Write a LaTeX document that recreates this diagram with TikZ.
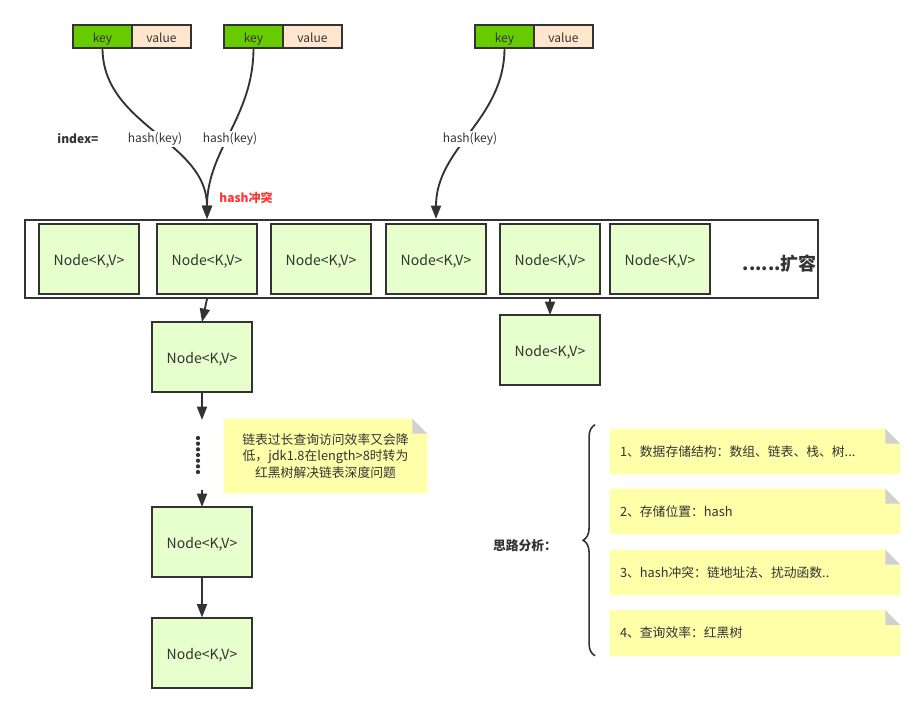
\documentclass[tikz,border=0pt]{standalone}
\usepackage{fontspec}
\setmainfont{Noto Sans CJK SC}
\usetikzlibrary{arrows.meta,positioning,decorations.pathreplacing,backgrounds}

\definecolor{linegray}{HTML}{333333}
\definecolor{keygreen}{HTML}{66CC00}
\definecolor{valpeach}{HTML}{FFE6CC}
\definecolor{nodegreen}{HTML}{E6FFCC}
\definecolor{notefill}{HTML}{FFFFAA}
\definecolor{foldgray}{HTML}{D0D0D0}
\definecolor{clashred}{HTML}{FF3333}

\tikzset{
  kv/.style={draw=linegray, line width=1.5pt, outer sep=0pt, inner sep=0pt,
    minimum width=44.25pt, minimum height=17.25pt, text height=0.95em, text depth=0.05em,
    font=\fontsize{9}{10}\selectfont, text=linegray},
  keybox/.style={kv, fill=keygreen},
  valbox/.style={kv, fill=valpeach},
  kvnode/.style={draw=linegray, line width=1.5pt, fill=nodegreen, outer sep=0pt,
    minimum width=75pt, minimum height=52.5pt, text height=1.05em, text depth=0.05em,
    font=\fontsize{10.5}{12}\selectfont, text=linegray},
  link/.style={draw=linegray, line width=1.4pt, -{Triangle[length=10pt,width=7.5pt]}},
  hashlbl/.style={fill=white, inner sep=1pt, font=\fontsize{9}{10}\selectfont, text=linegray},
  tipnote/.style={minimum width=152.25pt, minimum height=55.5pt, align=center,
    font=\fontsize{9.6}{12.5}\selectfont, text=linegray},
  ideanote/.style={text width=202.5pt, inner xsep=7.5pt, minimum height=33.75pt,
    align=left, font=\fontsize{9.6}{12}\selectfont, text=linegray},
}

\begin{document}
\begin{tikzpicture}[x=0.75pt, y=-0.75pt]
        \useasboundingbox (0,0) rectangle (924,713);

        % 键值对
        \node[keybox] (key1) at (102.5,36.5) {key};
        \node[valbox, right=0pt of key1] (val1) {value};
        \node[keybox] (key2) at (253.5,36.5) {key};
        \node[valbox, right=0pt of key2] (val2) {value};
        \node[keybox] (key3) at (504.5,36.5) {key};
        \node[valbox, right=0pt of key3] (val3) {value};

        % 数组
        \node[draw=linegray, line width=1.5pt, minimum width=594.75pt, minimum height=58.5pt] (tab) at (421.5,259) {};
        \node[kvnode] (n1) at (89,259) {Node<K,V>};
        \node[kvnode] (n2) at (207,259) {Node<K,V>};
        \node[kvnode] (n3) at (321,259) {Node<K,V>};
        \node[kvnode] (n4) at (436,259) {Node<K,V>};
        \node[kvnode] (n5) at (550,259) {Node<K,V>};
        \node[kvnode] (n6) at (660,259) {Node<K,V>};
        \node[anchor=east, inner sep=0pt, font=\fontsize{13.5}{15}\selectfont\bfseries, text=linegray] (grow) at (817,264) {......扩容};

        % hash(key) 曲线
        \draw[link] (key1.south) to[out=-90, in=90] (n2.north |- tab.north);
        \draw[link] (key2.south) to[out=-90, in=90] (n2.north |- tab.north);
        \draw[link] (key3.south) to[out=-90, in=90] (n4.north |- tab.north);
        \node[font=\fontsize{9}{10}\selectfont\bfseries, text=linegray] (idx) at (78,139) {index=};
        \node[hashlbl] (h1) at (155,139) {hash(key)};
        \node[hashlbl] (h2) at (230,139) {hash(key)};
        \node[hashlbl] (h3) at (470,139) {hash(key)};
        \node[font=\fontsize{9}{10}\selectfont\bfseries, text=clashred] (clash) at (246,198) {hash冲突};

        % 链表
        \node[kvnode] (l1) at (202,357) {Node<K,V>};
        \node[kvnode] (l2) at (202,542) {Node<K,V>};
        \node[kvnode] (l3) at (202,652.5) {Node<K,V>};
        \node[kvnode] (c1) at (550,350) {Node<K,V>};
        \coordinate (dtop) at (202,420);
        \coordinate (dbot) at (202,490);
        \draw[link] (n2.south |- tab.south) -- (l1.north);
        \draw[link] (l1.south) -- (dtop);
        \foreach \i in {0,...,6}
            \fill[linegray] (198,438+\i*5.67) circle (1.6pt);
        \draw[link] (dbot) -- (l2.north);
        \draw[link] (l2.south) -- (l3.north);
        \draw[link] (n5.south |- tab.south) -- (c1.north);

        % 注释
        \node[tipnote] (tip) at (325.5,456) {链表过长查询访问效率又会降\\低，jdk1.8在length>8时转为\\红黑树解决链表深度问题};

        % 思路分析
        \node[font=\fontsize{9.6}{11}\selectfont\bfseries, text=linegray] (idea) at (525,546) {思路分析：};
        \node[ideanote] (s1) at (755,451.5) {1、数据存储结构：数组、链表、栈、树...};
        \node[ideanote] (s2) at (755,511.5) {2、存储位置：hash};
        \node[ideanote] (s3) at (755,572.5) {3、hash冲突：链地址法、扰动函数..};
        \node[ideanote] (s4) at (755,633) {4、查询效率：红黑树};
        \draw[linegray, line width=1.2pt, decorate, decoration={brace, amplitude=9pt}]
            ([xshift=-11pt]s4.south west) -- ([xshift=-11pt,yshift=3pt]s1.north west);

        \begin{pgfonlayer}{background}
        \foreach \n in {tip,s1,s2,s3,s4} {
            \fill[notefill] (\n.south west) -- (\n.north west) -- ([xshift=-11.25pt]\n.north east)
                -- ([yshift=-11.25pt]\n.north east) -- (\n.south east) -- cycle;
            \fill[foldgray] ([xshift=-11.25pt]\n.north east) -- ([yshift=-11.25pt]\n.north east)
                -- ([xshift=-11.25pt,yshift=-11.25pt]\n.north east) -- cycle;
        }
        \end{pgfonlayer}
\end{tikzpicture}
\end{document}
